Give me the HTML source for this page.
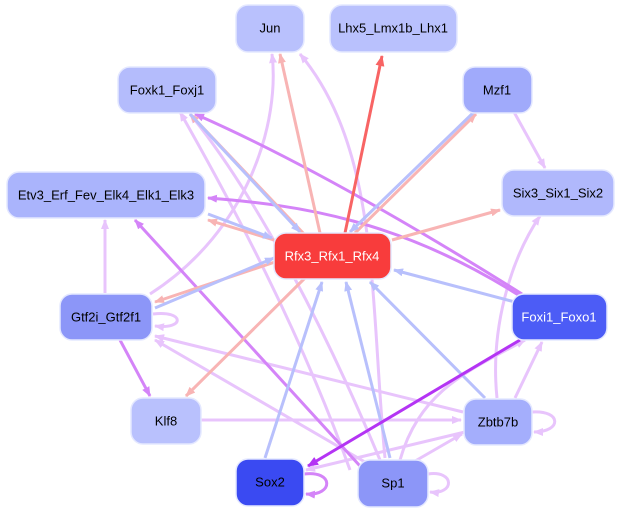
<!DOCTYPE html>
<html><head><meta charset="utf-8"><style>
html,body{margin:0;padding:0;background:#fff;width:622px;height:512px;overflow:hidden}
svg{display:block}
text{font-family:"Liberation Sans",sans-serif;font-size:13px;text-anchor:middle;dominant-baseline:central}
</style></head><body>
<svg width="622" height="512" viewBox="0 0 622 512" xmlns="http://www.w3.org/2000/svg">
<defs>
<marker id="aP" markerWidth="10" markerHeight="8" refX="9" refY="4" orient="auto" markerUnits="userSpaceOnUse"><path d="M0,0L10,4L0,8z" fill="#f8b4b4"/></marker>
<marker id="aB" markerWidth="10" markerHeight="8" refX="9" refY="4" orient="auto" markerUnits="userSpaceOnUse"><path d="M0,0L10,4L0,8z" fill="#b8c0fc"/></marker>
<marker id="aL" markerWidth="10" markerHeight="8" refX="9" refY="4" orient="auto" markerUnits="userSpaceOnUse"><path d="M0,0L10,4L0,8z" fill="#e8c4fc"/></marker>
<marker id="aU" markerWidth="10" markerHeight="8" refX="9" refY="4" orient="auto" markerUnits="userSpaceOnUse"><path d="M0,0L10,4L0,8z" fill="#d484f8"/></marker>
<marker id="aR" markerWidth="11" markerHeight="9" refX="10" refY="4.5" orient="auto" markerUnits="userSpaceOnUse"><path d="M0,0L11,4.5L0,9z" fill="#f86464"/></marker>
<marker id="aM" markerWidth="11" markerHeight="9" refX="10" refY="4.5" orient="auto" markerUnits="userSpaceOnUse"><path d="M0,0L11,4.5L0,9z" fill="#b434f4"/></marker>
</defs>
<g fill="none" stroke-width="3">
<g stroke="#e8c4fc" marker-end="url(#aL)">
<path d="M514,112 L545,168"/>
<path d="M105,293 L105,220"/>
<path d="M150,294 C250,230 280,120 272,54"/>
<path d="M201,420 L461,420"/>
<path d="M463,412 L155,336"/>
<path d="M365,462 L155,340"/>
<path d="M497,398 C490,330 510,260 540,216"/>
<path d="M515,398 L542,342"/>
<path d="M410,464 L462,434"/>
<path d="M400,460 C420,390 470,370 525,340"/>
<path d="M465,432 L306,470"/>
<path d="M385,458 C370,300 380,150 300,54"/>
<path d="M380,460 C330,340 260,200 190,114"/>
<path d="M350,470 C300,330 230,200 180,112"/>
<path d="M153,314 C185,310 185,330 155,326"/>
<path d="M428,474 C455,470 455,495 430,492"/>
<path d="M532,412 C562,410 562,432 534,432"/>
</g>
<g stroke="#d484f8" marker-end="url(#aU)">
<path d="M120,340 L150,396"/>
<path d="M520,296 C400,220 300,205 208,198"/>
<path d="M522,294 C420,230 300,160 195,114"/>
<path d="M360,466 L135,220"/>
<path d="M304,474 C334,470 334,496 306,494"/>
</g>
<g stroke="#f8b4b4" marker-end="url(#aP)">
<path d="M320,233 L280,54"/>
<path d="M305,235 L190,114"/>
<path d="M355,233 L476,114"/>
<path d="M274,240 L208,220"/>
<path d="M392,240 L500,210"/>
<path d="M275,262 L155,302"/>
<path d="M305,278 L186,396"/>
</g>
<g stroke="#b8c0fc" marker-end="url(#aB)">
<path d="M190,114 L300,232"/>
<path d="M474,112 L350,232"/>
<path d="M208,214 L272,238"/>
<path d="M155,308 L274,258"/>
<path d="M515,302 L394,270"/>
<path d="M265,458 L322,282"/>
<path d="M390,458 L346,282"/>
<path d="M485,398 L370,282"/>
</g>
<path d="M345,233 L382,56" stroke="#f86464" marker-end="url(#aR)"/>
<path d="M520,340 L308,466" stroke="#b434f4" marker-end="url(#aM)"/>
</g>
<g stroke="#e4e8ff" stroke-width="1.5">
<rect x="236" y="5" width="68" height="47" rx="12" fill="#b9c1fd"/>
<rect x="330" y="5" width="127" height="47" rx="12" fill="#b9c1fd"/>
<rect x="118" y="67" width="98" height="46" rx="12" fill="#b4bcfc"/>
<rect x="463" y="67" width="69" height="46" rx="12" fill="#a0aafb"/>
<rect x="7" y="172" width="198" height="46" rx="12" fill="#aab4fc"/>
<rect x="502" y="170" width="112" height="46" rx="12" fill="#b0b8fc"/>
<rect x="274" y="233" width="117" height="46" rx="12" fill="#f83c3c"/>
<rect x="60" y="294" width="92" height="46" rx="12" fill="#8c96f8"/>
<rect x="512" y="294" width="95" height="46" rx="12" fill="#4c5cf6"/>
<rect x="131" y="398" width="70" height="46" rx="12" fill="#b9c1fd"/>
<rect x="464" y="399" width="68" height="46" rx="12" fill="#a4aefc"/>
<rect x="236" y="459" width="68" height="47" rx="12" fill="#3a4af2"/>
<rect x="358" y="460" width="70" height="47" rx="12" fill="#8c96f8"/>
</g>
<text x="270" y="28">Jun</text>
<text x="393" y="28">Lhx5_Lmx1b_Lhx1</text>
<text x="167" y="90">Foxk1_Foxj1</text>
<text x="497" y="90">Mzf1</text>
<text x="106" y="195">Etv3_Erf_Fev_Elk4_Elk1_Elk3</text>
<text x="558" y="193">Six3_Six1_Six2</text>
<text x="332" y="256" fill="#fff">Rfx3_Rfx1_Rfx4</text>
<text x="106" y="317">Gtf2i_Gtf2f1</text>
<text x="559" y="317" fill="#fff">Foxi1_Foxo1</text>
<text x="166" y="421">Klf8</text>
<text x="498" y="422">Zbtb7b</text>
<text x="270" y="482">Sox2</text>
<text x="393" y="483">Sp1</text>
</svg>
</body></html>
